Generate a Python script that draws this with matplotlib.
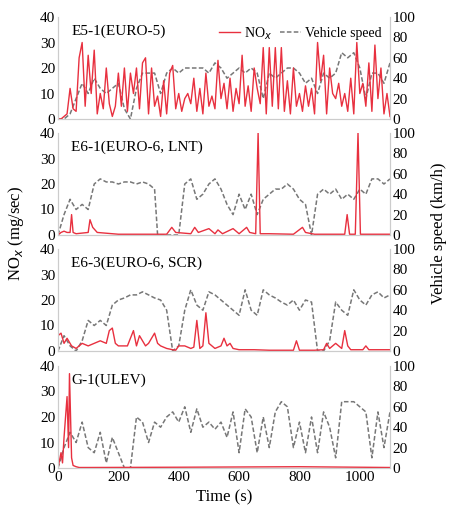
import numpy as np
import matplotlib.pyplot as plt

plt.rcParams['font.family'] = ['Liberation Serif', 'DejaVu Serif']
plt.rcParams['font.size'] = 11

# ---- data ----
t20 = list(range(0, 1101, 20))
t10 = list(range(0, 1101, 10))

e5_speed = [0, 0, 5, 20, 35, 25, 40, 30, 25, 30, 35, 10, 0, 30, 45, 45, 45, 25, 45, 50,
            45, 50, 50, 50, 50, 45, 55, 50, 40, 45, 50, 45, 50, 45, 20, 45, 40, 45, 50, 50,
            45, 35, 40, 25, 45, 40, 45, 65, 60, 65, 50, 20, 45, 45, 35, 55]
e5_nox = [0, 0, 1, 2, 12, 4, 3, 24, 30, 5, 25, 10, 27, 2, 10, 4, 20, 6, 1, 5,
          18, 5, 20, 3, 18, 10, 20, 4, 22, 24, 2, 20, 5, 9, 1, 15, 2, 18, 21, 4,
          10, 3, 8, 10, 6, 16, 3, 12, 2, 18, 5, 9, 4, 23, 8, 14, 4, 16, 3, 12,
          6, 25, 5, 13, 3, 20, 12, 6, 28, 2, 28, 5, 28, 4, 28, 3, 15, 2, 20, 5,
          10, 3, 13, 5, 12, 2, 30, 15, 25, 2, 20, 10, 8, 14, 5, 10, 3, 16, 2, 30,
          10, 14, 5, 22, 3, 29, 8, 20, 2, 10, 1]

e6_1_t = [0, 10, 20, 40, 60, 80, 100, 120, 140, 160, 180, 200, 220, 240, 260, 280, 300, 320, 330,
          360, 380, 400, 420, 440, 460, 480, 500, 520, 540, 560, 580, 600, 620, 640, 660, 680,
          700, 720, 740, 760, 780, 800, 820, 840, 860, 880, 900, 920, 940, 960, 980, 1000,
          1020, 1040, 1060, 1080, 1100]
e6_1_speed = [0, 10, 20, 35, 25, 30, 25, 50, 55, 52, 52, 50, 52, 52, 50, 52, 50, 45, 0,
              0, 0, 0, 50, 55, 35, 40, 50, 55, 45, 30, 20, 40, 25, 40, 20, 35,
              40, 45, 45, 50, 45, 35, 30, 0, 40, 45, 40, 45, 35, 40, 35, 45,
              40, 55, 55, 50, 55]
e6_1_nox_t = [0, 10, 20, 30, 40, 45, 50, 60, 100, 106, 115, 130, 200, 360, 377, 390, 440, 453,
              465, 500, 520, 530, 545, 580, 600, 625, 635, 655, 663, 670, 700, 780, 810, 820,
              850, 950, 958, 966, 985, 994, 1002, 1020, 1100]
e6_1_nox = [0, 1, 1.5, 1, 1, 8, 1, 0.5, 1, 6, 3, 1, 0.3, 0.3, 3, 1, 0.5, 3,
            1, 2.5, 0.5, 2, 0.5, 2.5, 0.5, 3, 1, 0.5, 40, 0.5, 0.5, 0.3, 3, 1,
            0.3, 0.3, 8, 0.3, 0.3, 40, 0.3, 0.3, 0.3]

e6_3_speed = [0, 15, 5, 0, 10, 30, 25, 30, 25, 45, 50, 52, 55, 55, 58, 55, 52, 50, 40, 0,
              5, 40, 60, 45, 40, 58, 55, 50, 45, 40, 35, 60, 40, 35, 60, 55, 52, 48, 45, 50,
              40, 50, 48, 0, 0, 10, 48, 40, 35, 60, 50, 45, 55, 58, 52, 55]
e6_3_nox_t = [0, 10, 20, 30, 45, 60, 80, 100, 120, 140, 160, 170, 180, 190, 200, 230, 250, 260,
              270, 290, 300, 320, 330, 340, 360, 380, 390, 400, 420, 440, 450, 460, 470, 480,
              490, 500, 520, 540, 550, 560, 570, 580, 600, 650, 700, 780, 790, 800, 850, 880,
              890, 900, 920, 940, 950, 960, 970, 990, 1010, 1020, 1030, 1100]
e6_3_nox = [6, 7, 3, 5, 2, 1, 3, 2, 3, 4, 3, 8, 9, 3, 2, 2, 8, 2,
            6, 2, 3, 7, 3, 2, 1, 0.5, 0.3, 2, 2, 1, 1.5, 12, 1, 2,
            15, 3, 1, 2, 5, 2, 3, 1, 0.5, 0.5, 0.3, 0.3, 4, 0.3, 0.3, 0.5,
            3, 1, 3, 1, 8, 2, 0.5, 0.5, 0.5, 2, 0.5, 0.5]

g1_speed = [0, 20, 35, 25, 45, 20, 15, 35, 5, 30, 15, 0, 0, 50, 45, 25, 45, 40, 50, 55,
            45, 60, 35, 58, 40, 45, 38, 45, 30, 55, 15, 58, 50, 15, 50, 20, 55, 65, 60, 20,
            45, 15, 50, 15, 55, 40, 10, 65, 65, 65, 60, 55, 10, 55, 20, 55]
g1_nox_t = [0, 10, 15, 20, 30, 35, 38, 45, 50, 60, 70, 100, 400, 800, 1100]
g1_nox = [0, 6, 2, 12, 28, 8, 37, 4, 1, 0.5, 0.2, 0.2, 0.3, 0.5, 0.2]

titles = ['E5-1(EURO-5)', 'E6-1(EURO-6, LNT)', 'E6-3(EURO-6, SCR)', 'G-1(ULEV)']
nox_x = [t10, e6_1_nox_t, e6_3_nox_t, g1_nox_t]
nox_y = [e5_nox, e6_1_nox, e6_3_nox, g1_nox]
spd_x = [t20, e6_1_t, t20, t20]
spd_y = [e5_speed, e6_1_speed, e6_3_speed, g1_speed]

fig = plt.figure(figsize=(4.5, 5.3), dpi=100)
W, H = 450, 530
tops = [17, 133, 249, 366]
red = '#e8303f'
for i in range(4):
    ax = fig.add_axes([58 / W, 1 - (tops[i] + 102) / H, 332 / W, 102 / H])
    ax2 = ax.twinx()
    ax.set_zorder(ax2.get_zorder() + 1)
    ax.patch.set_visible(False)
    ln1, = ax.plot(nox_x[i], nox_y[i], color=red, lw=1.0)
    ln2, = ax2.plot(spd_x[i], spd_y[i], color='#777777', lw=1.1, ls=(0, (3, 1.5)))
    ax.set_xlim(0, 1100)
    ax.set_ylim(0, 40)
    ax2.set_ylim(0, 100)
    ax.set_yticks([0, 10, 20, 30, 40])
    ax2.set_yticks([0, 20, 40, 60, 80, 100])
    for a in (ax, ax2):
        for s in a.spines.values():
            s.set_color('#cccccc')
        a.spines['top'].set_visible(False)
        a.tick_params(length=0, labelsize=11, pad=2)
    ax.text(0.04, 0.93, titles[i], transform=ax.transAxes, va='top', fontsize=11)
    if i < 3:
        ax.set_xticks([])
    else:
        ax.set_xticks([0, 200, 400, 600, 800, 1000])
        ax.set_xlabel('Time (s)', fontsize=12)
    if i == 0:
        ax.legend([ln1, ln2], ['NO$_x$', 'Vehicle speed'], loc='upper right', ncol=2,
                  frameon=False, fontsize=10, handlelength=1.5, columnspacing=0.6,
                  handletextpad=0.3, borderaxespad=0.2)

fig.text(0.035, 0.56, 'NO$_x$ (mg/sec)', rotation=90, va='center', ha='center', fontsize=12)
fig.text(0.975, 0.56, 'Vehicle speed (km/h)', rotation=90, va='center', ha='center', fontsize=12)
fig.savefig('out.png', dpi=100)
